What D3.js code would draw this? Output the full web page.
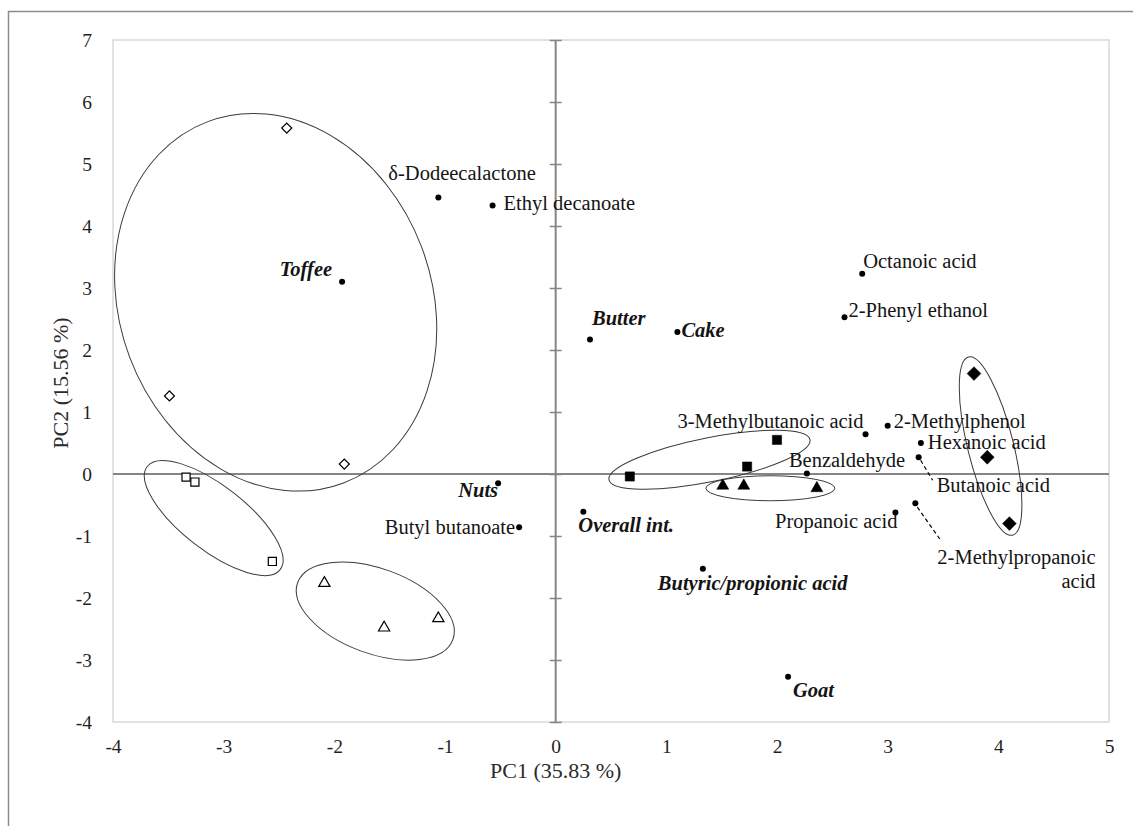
<!DOCTYPE html>
<html>
<head>
<meta charset="utf-8">
<script src="https://cdn.jsdelivr.net/npm/d3@7"></script>
<style>
  body { margin: 0; background: #fff; }
  svg { display: block; font-family: "Liberation Serif", "DejaVu Serif", serif; }
</style>
</head>
<body>
<svg width="1133" height="826"></svg>
<script>
'use strict';

// Axis ranges and tick values
var xTicks = [-4, -3, -2, -1, 0, 1, 2, 3, 4, 5];
var yTicks = [-4, -3, -2, -1, 0, 1, 2, 3, 4, 5, 6, 7];
var xTitle = 'PC1 (35.83 %)';
var yTitle = 'PC2 (15.56 %)';

// Sample scores, one array per sample group [PC1, PC2]
var openDiamonds = [[-2.43, 5.58], [-3.49, 1.26], [-1.91, 0.16]];
var openSquares = [[-3.34, -0.05], [-3.26, -0.13], [-2.56, -1.41]];
var openTriangles = [[-2.09, -1.76], [-1.55, -2.48], [-1.06, -2.33]];
var filledSquares = [[0.67, -0.04], [1.73, 0.12], [2.00, 0.55]];
var filledTriangles = [[1.51, -0.19], [1.70, -0.19], [2.36, -0.23]];
var filledDiamonds = [[3.78, 1.62], [3.90, 0.27], [4.10, -0.80]];

// Loadings of the variables
var varNames = ['δ-Dodeecalactone', 'Ethyl decanoate', 'Toffee', 'Butter', 'Cake',
	'Octanoic acid', '2-Phenyl ethanol', '3-Methylbutanoic acid', '2-Methylphenol',
	'Hexanoic acid', 'Benzaldehyde', 'Butanoic acid', 'Propanoic acid',
	'2-Methylpropanoic acid', 'Overall int.', 'Butyric/propionic acid', 'Goat',
	'Nuts', 'Butyl butanoate'];
var varPC1 = [-1.06, -0.57, -1.93, 0.31, 1.10, 2.77, 2.61, 2.80, 3.00, 3.30, 2.27,
	3.28, 3.07, 3.25, 0.25, 1.33, 2.10, -0.52, -0.33];
var varPC2 = [4.46, 4.33, 3.10, 2.17, 2.29, 3.23, 2.53, 0.64, 0.78, 0.50, 0.01,
	0.27, -0.62, -0.47, -0.61, -1.53, -3.27, -0.15, -0.86];
// sensory attributes are written in bold italic
var sensory = ['Toffee', 'Butter', 'Cake', 'Overall int.', 'Butyric/propionic acid', 'Goat', 'Nuts'];

// Group ellipses: centre in PC units, semi axes in PC1 units, angle in degrees
var ellipseCx = [-2.53, -3.09, -1.63, 1.39, 1.94, 3.93];
var ellipseCy = [2.77, -0.71, -2.21, 0.23, -0.23, 0.45];
var ellipseA = [1.744, 0.76, 0.747, 0.926, 0.583, 0.829];
var ellipseB = [1.41, 0.29, 0.384, 0.199, 0.113, 0.207];
var ellipseAngle = [69.4, 37.8, 20.2, -11.3, 0, 76.1];

// label placement (pixels from the dot) -- layout only
var labelPos = {
	'δ-Dodeecalactone': [-50, -17, 'start'],
	'Ethyl decanoate': [11, 4, 'start'],
	'Toffee': [-10, -6, 'end'],
	'Butter': [2, -14, 'start'],
	'Cake': [4, 5, 'start'],
	'Octanoic acid': [1, -6, 'start'],
	'2-Phenyl ethanol': [4, 0, 'start'],
	'3-Methylbutanoic acid': [-2, -6, 'end'],
	'2-Methylphenol': [6, 2, 'start'],
	'Hexanoic acid': [7, 6, 'start'],
	'Benzaldehyde': [-18, -6, 'start'],
	'Butanoic acid': [18, 35, 'start'],
	'Propanoic acid': [2, 16, 'end'],
	'2-Methylpropanoic acid': [22, 61, 'start'],
	'Overall int.': [-5, 20, 'start'],
	'Butyric/propionic acid': [-45, 21, 'start'],
	'Goat': [5, 20, 'start'],
	'Nuts': [0, 14, 'end'],
	'Butyl butanoate': [-4, 7, 'end']
};
// dashed leader lines [from dx, dy, to dx, dy]
var leaders = {
	'Butanoic acid': [2, 3, 14, 23],
	'2-Methylpropanoic acid': [2, 4, 26, 38]
};

var svg = d3.select('svg');
var margin = {left: 113, top: 40, right: 1109, bottom: 722};

var x = d3.scaleLinear().domain([-4, 5]).range([margin.left, margin.right]);
var y = d3.scaleLinear().domain([-4, 7]).range([margin.bottom, margin.top]);
var unitPx = x(1) - x(0);

// outer chart border
svg.append('rect')
	.attr('x', 8.5).attr('y', 11.5)
	.attr('width', 1200).attr('height', 900)
	.attr('fill', 'none')
	.attr('stroke', '#8c8c8c')
	.attr('stroke-width', 1.5);

// plot area
svg.append('rect')
	.attr('x', margin.left).attr('y', margin.top)
	.attr('width', margin.right - margin.left)
	.attr('height', margin.bottom - margin.top)
	.attr('fill', 'none')
	.attr('stroke', '#d9d9d9')
	.attr('stroke-width', 1.5);

// tick labels
var yAxis = svg.append('g')
	.attr('transform', 'translate(' + (margin.left - 18) + ',0)')
	.call(d3.axisLeft(y).tickValues(yTicks).tickSize(0).tickFormat(function (d) { return String(d); }));
var xAxis = svg.append('g')
	.attr('transform', 'translate(0,' + (margin.bottom + 14) + ')')
	.call(d3.axisBottom(x).tickValues(xTicks).tickSize(0).tickFormat(function (d) { return String(d); }));
[yAxis, xAxis].forEach(function (g) {
	g.attr('font-family', null).attr('font-size', null);
	g.select('.domain').remove();
	g.selectAll('text')
		.attr('font-size', 19.5)
		.attr('fill', '#1f1f1f');
});

// zero lines
svg.append('line')
	.attr('x1', margin.left).attr('x2', margin.right)
	.attr('y1', y(0)).attr('y2', y(0))
	.attr('stroke', '#858585').attr('stroke-width', 2);
svg.append('g')
	.attr('transform', 'translate(' + (x(0) + 6) + ',0)')
	.call(d3.axisLeft(y).tickValues(yTicks).tickSize(12).tickFormat(''))
	.call(function (g) {
		g.select('.domain').remove();
		g.selectAll('line').attr('stroke', '#858585').attr('stroke-width', 1.5);
	});
svg.append('line')
	.attr('x1', x(0)).attr('x2', x(0))
	.attr('y1', margin.top).attr('y2', margin.bottom)
	.attr('stroke', '#858585').attr('stroke-width', 2);

// axis titles
svg.append('text')
	.attr('x', x(0)).attr('y', margin.bottom + 56)
	.attr('text-anchor', 'middle')
	.attr('font-size', 22).attr('fill', '#2b2b2b')
	.text(xTitle);
svg.append('text')
	.attr('transform', 'translate(' + 68 + ',' + 383 + ') rotate(-90)')
	.attr('text-anchor', 'middle')
	.attr('font-size', 22).attr('fill', '#2b2b2b')
	.text(yTitle);

// group ellipses
svg.append('g').selectAll('ellipse')
	.data(ellipseCx)
	.enter().append('ellipse')
	.attr('cx', 0).attr('cy', 0)
	.attr('rx', function (d, i) { return ellipseA[i] * unitPx; })
	.attr('ry', function (d, i) { return ellipseB[i] * unitPx; })
	.attr('transform', function (d, i) {
		return 'translate(' + x(d) + ',' + y(ellipseCy[i]) + ') rotate(' + ellipseAngle[i] + ')';
	})
	.attr('fill', 'none')
	.attr('stroke', '#3a3a3a')
	.attr('stroke-width', 1);

// sample markers
function drawSamples(data, type, size, filled, rotate) {
	svg.append('g').selectAll('path')
		.data(data)
		.enter().append('path')
		.attr('d', d3.symbol().type(type).size(size))
		.attr('transform', function (d) {
			return 'translate(' + x(d[0]) + ',' + y(d[1]) + ')' + (rotate ? ' rotate(45)' : '');
		})
		.attr('fill', filled ? '#000' : '#fff')
		.attr('stroke', '#000')
		.attr('stroke-width', filled ? 0.5 : 1.2);
}
drawSamples(openDiamonds, d3.symbolSquare, 50, false, true);
drawSamples(openSquares, d3.symbolSquare, 66, false, false);
drawSamples(openTriangles, d3.symbolTriangle, 55, false, false);
drawSamples(filledSquares, d3.symbolSquare, 85, true, false);
drawSamples(filledTriangles, d3.symbolTriangle, 62, true, false);
drawSamples(filledDiamonds, d3.symbolSquare, 95, true, true);

// variable loadings
var vars = varNames.map(function (n, i) {
	return {name: n, px: varPC1[i], py: varPC2[i]};
});

var leaderG = svg.append('g');
vars.forEach(function (d) {
	var l = leaders[d.name];
	if (!l) {
		return;
	}
	leaderG.append('line')
		.attr('x1', x(d.px) + l[0]).attr('y1', y(d.py) + l[1])
		.attr('x2', x(d.px) + l[2]).attr('y2', y(d.py) + l[3])
		.attr('stroke', '#000').attr('stroke-width', 1.2)
		.attr('stroke-dasharray', '4,3');
});

svg.append('g').selectAll('circle')
	.data(vars)
	.enter().append('circle')
	.attr('cx', function (d) { return x(d.px); })
	.attr('cy', function (d) { return y(d.py); })
	.attr('r', 3)
	.attr('fill', '#000');

var labels = svg.append('g').selectAll('text')
	.data(vars)
	.enter().append('text')
	.attr('x', function (d) { return x(d.px) + labelPos[d.name][0]; })
	.attr('y', function (d) { return y(d.py) + labelPos[d.name][1]; })
	.attr('text-anchor', function (d) { return labelPos[d.name][2]; })
	.attr('font-size', 20.5)
	.attr('fill', '#141414')
	.attr('font-weight', function (d) { return sensory.indexOf(d.name) >= 0 ? 'bold' : 'normal'; })
	.attr('font-style', function (d) { return sensory.indexOf(d.name) >= 0 ? 'italic' : 'normal'; });

labels.each(function (d) {
	var t = d3.select(this);
	if (d.name !== '2-Methylpropanoic acid') {
		t.text(d.name);
		return;
	}
	// two line label, right aligned block
	var x0 = +t.attr('x');
	var first = t.append('tspan').attr('x', x0).text('2-Methylpropanoic');
	var w = first.node().getComputedTextLength();
	t.append('tspan')
		.attr('x', x0 + w).attr('dy', 24)
		.attr('text-anchor', 'end')
		.text('acid');
});
</script>
</body>
</html>
